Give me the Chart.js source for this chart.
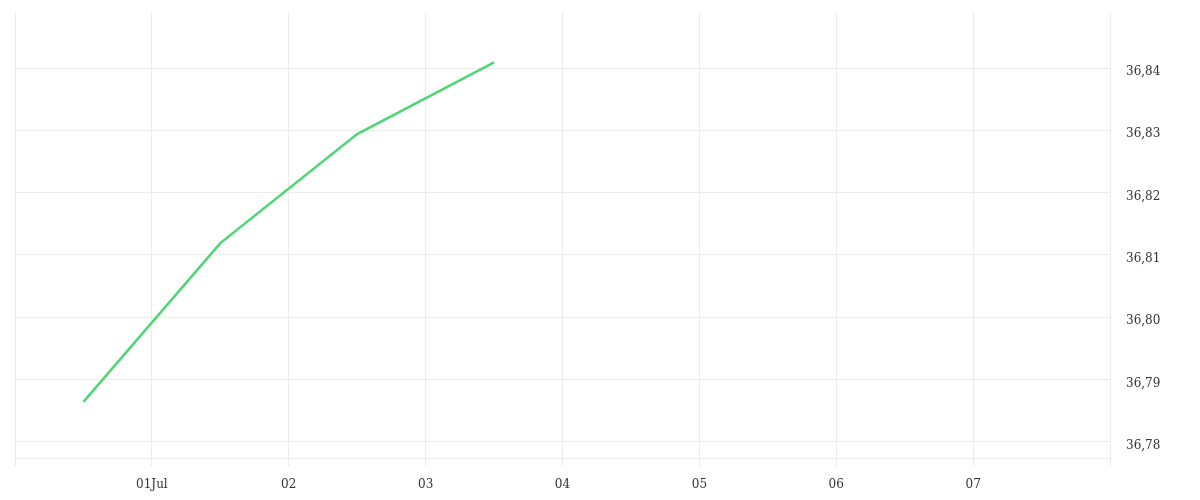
<!DOCTYPE html>
<html>
<head>
<meta charset="utf-8">
<script src="https://cdn.jsdelivr.net/npm/chart.js@4"></script>
<style>
  html, body { margin: 0; padding: 0; background: #fff; }
  #wrap { width: 1200px; height: 500px; }
</style>
</head>
<body>
<div id="wrap"><canvas id="rateChart"></canvas></div>
<script>
// day offsets counted from 30 Jun 00:00
const days = [0.5, 1.5, 2.5, 3.5];
const rates = [36.7864, 36.8119, 36.8294, 36.8409];
const xTickLabels = ['', '01Jul', '02', '03', '04', '05', '06', '07', ''];
const yTicks = [36.78, 36.79, 36.80, 36.81, 36.82, 36.83, 36.84];

const gridColor = '#ececec';

const ctx = document.getElementById('rateChart').getContext('2d');
new Chart(ctx, {
  type: 'line',
  data: {
    datasets: [{
      data: days.map((d, i) => ({ x: d, y: rates[i] })),
      borderColor: '#4cd674',
      borderWidth: 2.5,
      pointRadius: 0,
      tension: 0,
      fill: false
    }]
  },
  options: {
    responsive: true,
    maintainAspectRatio: false,
    animation: false,
    layout: { padding: { left: 15, top: 12, right: 0, bottom: 0 } },
    plugins: {
      legend: { display: false },
      tooltip: { enabled: false }
    },
    scales: {
      x: {
        type: 'linear',
        min: 0,
        max: 8,
        afterBuildTicks: function(scale) {
          scale.ticks = xTickLabels.map((t, i) => ({ value: i }));
        },
        afterFit: function(scale) {
          scale.height = 42;
          scale.paddingLeft = 0;
          scale.paddingRight = 0;
        },
        grid: { color: gridColor, tickLength: 8 },
        border: { color: gridColor },
        ticks: {
          autoSkip: false,
          maxRotation: 0,
          padding: 12,
          color: '#333',
          font: { family: 'DejaVu Serif', size: 12 },
          callback: function(v) { return xTickLabels[Math.round(v)]; }
        }
      },
      y: {
        position: 'right',
        min: 36.7774,
        max: 36.849,
        afterBuildTicks: function(scale) {
          scale.ticks = yTicks.map(v => ({ value: v }));
        },
        afterFit: function(scale) {
          scale.width = 90;
          // keep label overflow from pushing the plot area down
          scale.paddingTop = 0;
          scale.paddingBottom = 0;
        },
        grid: { color: gridColor, drawTicks: false },
        border: { color: gridColor },
        ticks: {
          padding: 16,
          labelOffset: 4,
          color: '#333',
          font: { family: 'DejaVu Serif', size: 12 },
          callback: function(v) { return v.toFixed(2).replace('.', ','); }
        }
      }
    }
  }
});
</script>
</body>
</html>
